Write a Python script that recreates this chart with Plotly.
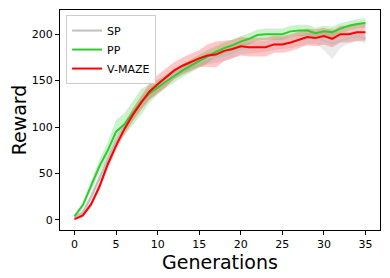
import plotly.graph_objects as go

generations = list(range(36))

sp_mean = [3, 8, 25, 45, 65, 85, 100, 114, 126, 136, 143, 150, 157, 162, 166, 170, 174, 175, 177, 180,
           184, 185, 186, 187, 189, 190, 191, 193, 195, 196, 193, 190, 193, 196, 198, 195]
sp_err = [2, 3, 4, 5, 6, 6, 6, 6, 6, 6, 6, 6, 6, 6, 6, 6, 6, 6, 6, 6,
          6, 6, 6, 6, 6, 6, 6, 6, 6, 6, 10, 17, 8, 6, 6, 5]

pp_mean = [4, 16, 37, 58, 75, 95, 103, 115, 127, 136, 143, 149, 155, 161, 166, 171, 176, 181, 185, 188,
           192, 195, 199, 200, 200, 200, 203, 204, 204, 201, 203, 202, 206, 209, 211, 212]
pp_err = [2, 3, 5, 7, 9, 13, 12, 13, 14, 10, 8, 7, 7, 7, 7, 7, 7, 6, 6, 6,
          6, 6, 6, 6, 6, 6, 6, 6, 6, 6, 6, 6, 6, 5, 5, 5]

vm_mean = [1, 5, 17, 36, 60, 80, 98, 113, 126, 138, 146, 153, 161, 166, 170, 174, 177, 178, 182, 184,
           187, 186, 186, 186, 189, 189, 191, 194, 197, 196, 198, 195, 200, 200, 202, 202]
vm_err = [1, 2, 3, 4, 5, 5, 6, 7, 8, 9, 10, 10, 9, 9, 9, 9, 12, 14, 11, 10,
          10, 10, 10, 10, 9, 9, 9, 9, 9, 9, 9, 9, 9, 9, 9, 9]

series = [
    ("SP", sp_mean, sp_err, "#bfbfbf", "rgba(190,190,190,0.3)"),
    ("PP", pp_mean, pp_err, "#2ecc2e", "rgba(50,205,50,0.25)"),
    ("V-MAZE", vm_mean, vm_err, "#ff0000", "rgba(255,0,0,0.22)"),
]

fig = go.Figure()
for name, m, e, col, fill in series:
    up = [a + b for a, b in zip(m, e)]
    lo = [a - b for a, b in zip(m, e)]
    fig.add_trace(go.Scatter(x=generations + generations[::-1], y=up + lo[::-1],
                             fill="toself", fillcolor=fill, line=dict(width=0),
                             hoverinfo="skip", showlegend=False, mode="lines"))
for name, m, e, col, fill in series:
    fig.add_trace(go.Scatter(x=generations, y=m, mode="lines", name=name,
                             line=dict(color=col, width=2)))

# page body adds an 8px margin, so the figure is sized/offset to compensate
fig.update_layout(
    width=374, height=270,
    margin=dict(l=52, r=2, t=2, b=48),
    paper_bgcolor="white", plot_bgcolor="white",
    font=dict(family="DejaVu Sans", color="black", size=11),
    showlegend=True,
    legend=dict(x=0.019, y=0.977, xanchor="left", yanchor="top",
                bordercolor="#cccccc", borderwidth=1, bgcolor="rgba(255,255,255,0.8)",
                font=dict(size=11), tracegroupgap=0, itemwidth=30),
)
fig.add_annotation(text="Generations", xref="paper", yref="paper", x=0.5, y=-0.087,
                   xanchor="center", yanchor="top", showarrow=False,
                   font=dict(size=19, family="DejaVu Sans", color="black"))
fig.update_xaxes(range=[-1.75, 36.75], tickvals=[0, 5, 10, 15, 20, 25, 30, 35],
                 showline=True, linecolor="black", linewidth=1, mirror=True, automargin=False,
                 ticks="outside", ticklen=4, tickcolor="black", showgrid=False, zeroline=False,
                 tickfont=dict(size=11))
fig.update_yaxes(range=[-10.8, 226], tickvals=[0, 50, 100, 150, 200],
                 showline=True, linecolor="black", linewidth=1, mirror=True, automargin=False,
                 ticks="outside", ticklen=4, tickcolor="black", showgrid=False, zeroline=False,
                 title=dict(text="Reward", font=dict(size=19), standoff=4),
                 tickfont=dict(size=11))

fig.write_html("out.html")
